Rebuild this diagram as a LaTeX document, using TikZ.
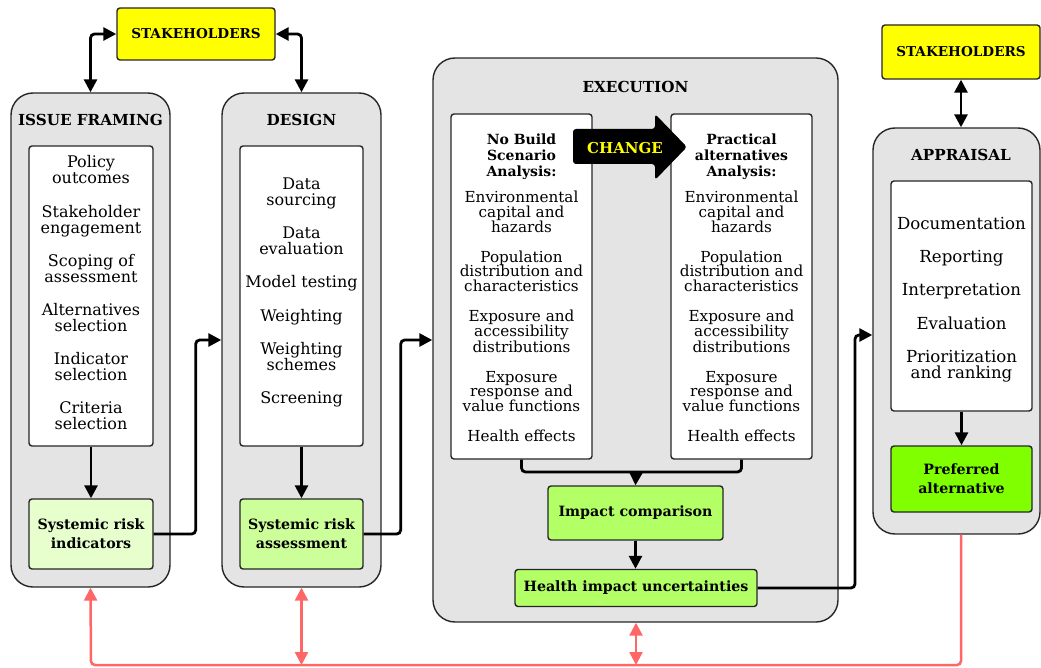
\documentclass[tikz,border=0pt]{standalone}
\usepackage{fontspec}
\setmainfont{DejaVu Serif}
\usetikzlibrary{arrows.meta,calc}

\definecolor{panelgray}{HTML}{E4E4E4}
\definecolor{stakeyellow}{HTML}{FFFF00}
\definecolor{palegreen}{HTML}{E6FFCC}
\definecolor{softgreen}{HTML}{CCFF99}
\definecolor{midgreen}{HTML}{B3FF66}
\definecolor{brightgreen}{HTML}{80FF00}
\definecolor{fbred}{HTML}{FF6666}
\definecolor{changeyellow}{HTML}{FFFF00}

\begin{document}
\begin{tikzpicture}[x=1pt,y=-1pt,
  panel/.style={draw=black!85, line width=1.4pt, fill=panelgray, rounded corners=22pt, inner sep=0pt},
  paneltitle/.style={font=\fontsize{15.2}{15}\selectfont\bfseries, inner sep=0pt},
  listbox/.style={draw=black!85, line width=1.4pt, fill=white, rounded corners=3pt, inner sep=0pt},
  listtext/.style={align=center, inner sep=0pt, font=\fontsize{16}{16}\selectfont},
  exectext/.style={align=center, inner sep=0pt, font=\fontsize{15.2}{14.8}\selectfont},
  resultbox/.style={draw=black!85, line width=1.4pt, rounded corners=3pt, align=center, inner sep=0pt,
    font=\fontsize{14.2}{19}\selectfont\bfseries},
  stakebox/.style={draw=black!85, line width=1.4pt, fill=stakeyellow, rounded corners=3pt, inner sep=0pt,
    font=\fontsize{13.6}{14}\selectfont\bfseries},
  flow/.style={draw=black, line width=2.8pt, rounded corners=4pt, -{Triangle[length=13pt,width=13pt]}},
  flowboth/.style={draw=black, line width=2.8pt, rounded corners=4pt,
    {Triangle[length=13pt,width=13pt]}-{Triangle[length=13pt,width=13pt]}},
  joinline/.style={draw=black, line width=2.8pt, rounded corners=4pt},
  feedback/.style={draw=fbred, line width=2.5pt, rounded corners=4pt, -{Triangle[length=13pt,width=13pt]}},
  feedbackboth/.style={draw=fbred, line width=2.5pt,
    {Triangle[length=13pt,width=13pt]}-{Triangle[length=13pt,width=13pt]}}
]
\useasboundingbox (0,0) rectangle (1041,668);

% ---------- stakeholders ----------
\node[stakebox, minimum width=158pt, minimum height=52pt] (stakeL) at (196,34) {STAKEHOLDERS};
\node[stakebox, minimum width=158pt, minimum height=54pt] (stakeR) at (961,52) {STAKEHOLDERS};

% ---------- issue framing ----------
\node[panel, minimum width=159pt, minimum height=494pt] (frame) at (90.5,340) {};
\node[paneltitle] (frameT) at (90.5,120) {ISSUE FRAMING};
\node[listbox, minimum width=124pt, minimum height=300pt] (frameL) at (91,296) {};
\node[listtext] (frameTxt) at (91,293)
  {Policy\\outcomes\\[17.2pt]Stakeholder\\engagement\\[17.2pt]Scoping of\\assessment\\[17.2pt]%
   Alternatives\\selection\\[17.2pt]Indicator\\selection\\[17.2pt]Criteria\\selection};
\node[resultbox, fill=palegreen, minimum width=124pt, minimum height=70pt] (indic) at (91,534)
  {Systemic risk\\indicators};

% ---------- design ----------
\node[panel, minimum width=159pt, minimum height=494pt] (design) at (301.5,340) {};
\node[paneltitle] (designT) at (301.5,120) {DESIGN};
\node[listbox, minimum width=123pt, minimum height=300pt] (designL) at (301.5,296) {};
\node[listtext] (designTxt) at (301.5,292.5)
  {Data\\sourcing\\[17.2pt]Data\\evaluation\\[17.2pt]Model testing\\[17.2pt]Weighting\\[17.2pt]%
   Weighting\\schemes\\[17.2pt]Screening};
\node[resultbox, fill=softgreen, minimum width=123pt, minimum height=70pt] (assess) at (301.5,534)
  {Systemic risk\\assessment};

% ---------- execution ----------
\node[panel, minimum width=405pt, minimum height=564pt] (exec) at (635.5,340) {};
\node[paneltitle] (execT) at (635.5,87) {EXECUTION};
\node[listbox, minimum width=141pt, minimum height=345pt] (nobuild) at (521.5,286.5) {};
\node[exectext] (nobuildTxt) at (521.5,288)
  {\textbf{\fontsize{14}{14}\selectfont No Build}\\[1.2pt]\textbf{\fontsize{14}{14}\selectfont Scenario}\\[1.2pt]%
   \textbf{\fontsize{14}{14}\selectfont Analysis:}\\[11pt]Environmental\\capital and\\hazards\\[15pt]%
   Population\\distribution and\\characteristics\\[15pt]Exposure and\\accessibility\\distributions\\[15pt]%
   Exposure\\response and\\value functions\\[15pt]Health effects};
\node[listbox, minimum width=141pt, minimum height=345pt] (practical) at (741.5,286.5) {};
\node[exectext] (practicalTxt) at (741.5,288)
  {\textbf{\fontsize{14}{14}\selectfont Practical}\\[1.2pt]\textbf{\fontsize{14}{14}\selectfont alternatives}\\[1.2pt]%
   \textbf{\fontsize{14}{14}\selectfont Analysis:}\\[11pt]Environmental\\capital and\\hazards\\[15pt]%
   Population\\distribution and\\characteristics\\[15pt]Exposure and\\accessibility\\distributions\\[15pt]%
   Exposure\\response and\\value functions\\[15pt]Health effects};

% change arrow between the two scenario boxes
\fill[black, rounded corners=3pt]
  (573,129) -- (655,129) -- (655,114) -- (687,147) -- (655,180) -- (655,164) -- (573,164) -- cycle;
\node[font=\fontsize{15}{15}\selectfont\bfseries, text=changeyellow, inner sep=0pt] (change) at (625,148) {CHANGE};

\node[resultbox, fill=midgreen, minimum width=175pt, minimum height=54pt] (impact) at (635.5,513)
  {Impact comparison};
\node[resultbox, fill=midgreen, minimum width=242pt, minimum height=37pt] (uncert) at (636,588)
  {Health impact uncertainties};

% ---------- appraisal ----------
\node[panel, minimum width=167pt, minimum height=406pt] (apprais) at (956.5,331) {};
\node[paneltitle] (appraisT) at (961,155) {APPRAISAL};
\node[listbox, minimum width=141pt, minimum height=230pt] (appraisL) at (961.5,296) {};
\node[listtext, font=\fontsize{16.6}{16}\selectfont] (appraisTxt) at (961.5,299.5)
  {Documentation\\[17pt]Reporting\\[17pt]Interpretation\\[17pt]Evaluation\\[17pt]%
   Prioritization\\and ranking};
\node[resultbox, fill=brightgreen, minimum width=141pt, minimum height=66pt] (prefer) at (961.5,479)
  {Preferred\\alternative};

% ---------- connectors ----------
\draw[flowboth] (stakeL.west) -| (frame.north);
\draw[flowboth] (stakeL.east) -| (design.north);
\draw[flowboth] (stakeR.south) -- (stakeR.south |- apprais.north);

\draw[flow] (frameL.south) -- (indic.north);
\draw[flow] (designL.south) -- (assess.north);
\draw[flow] (appraisL.south -| prefer.north) -- (prefer.north);

\draw[flow] (indic.east) -- ++(42,0) |- (design.west);
\draw[flow] (assess.east) -- ++(37,0) |- (exec.west);

\coordinate (merge) at (636,472);
\draw[joinline] (nobuild.south) |- (merge);
\draw[joinline] (practical.south) |- (merge);
\draw[flow] (merge) -- (impact.north);
\draw[flow] (impact.south) -- (uncert.north -| impact.south);

\coordinate (toAppr) at (855,335);
\draw[flow] (uncert.east) -| (toAppr) -- (toAppr -| apprais.west);

% ---------- feedback loop ----------
\coordinate (loopL) at (91,665);
\draw[feedback] (apprais.south -| stakeR.south) |- (loopL) -- (frame.south);
\draw[feedbackboth] (design.south) -- (design.south |- loopL);
\draw[feedbackboth] (exec.south -| uncert.south) -- (uncert.south |- loopL);
\end{tikzpicture}
\end{document}
